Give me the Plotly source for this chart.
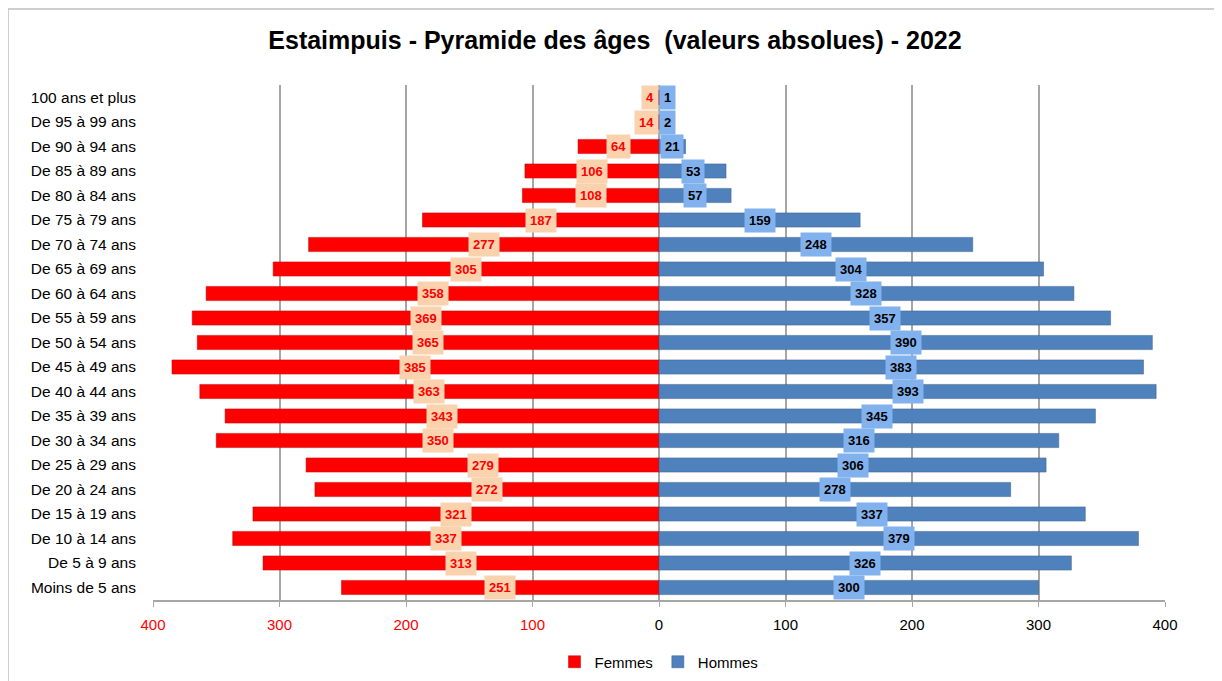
import plotly.graph_objects as go

ages = ["100 ans et plus", "De 95 à 99 ans", "De 90 à 94 ans", "De 85 à 89 ans", "De 80 à 84 ans",
        "De 75 à 79 ans", "De 70 à 74 ans", "De 65 à 69 ans", "De 60 à 64 ans", "De 55 à 59 ans",
        "De 50 à 54 ans", "De 45 à 49 ans", "De 40 à 44 ans", "De 35 à 39 ans", "De 30 à 34 ans",
        "De 25 à 29 ans", "De 20 à 24 ans", "De 15 à 19 ans", "De 10 à 14 ans", "De 5 à 9 ans",
        "Moins de 5 ans"]
femmes = [4, 14, 64, 106, 108, 187, 277, 305, 358, 369, 365, 385, 363, 343, 350, 279, 272, 321, 337, 313, 251]
hommes = [1, 2, 21, 53, 57, 159, 248, 304, 328, 357, 390, 383, 393, 345, 316, 306, 278, 337, 379, 326, 300]
tick_vals = [-400, -300, -200, -100, 0, 100, 200, 300, 400]
tick_text = ['<span style="color:#FF0000">400</span>', '<span style="color:#FF0000">300</span>',
             '<span style="color:#FF0000">200</span>', '<span style="color:#FF0000">100</span>',
             "0", "100", "200", "300", "400"]

FONT = "Liberation Sans"
RED = "#FF0000"
BLUE = "#4F81BD"

# page body has an 8px margin: the figure is drawn from (8, 8)
OFF = 8
W, H = 1222 - OFF, 681 - OFF
L, R, T, B = 153 - OFF, W - (1165 - OFF), 85 - OFF, H - (600 - OFF)
pw, ph = W - L - R, H - T - B
UNIT = pw / 800.0  # pixels per value unit


def px_x(p):
    return (p - L) / pw


def px_y(p):
    return (H - B - p) / ph


fig = go.Figure()
fig.add_trace(go.Bar(y=ages, x=[-v for v in femmes], orientation="h", name="Femmes",
                     marker=dict(color=RED, line=dict(color="#C00000", width=0.5)),
                     hoverinfo="skip"))
fig.add_trace(go.Bar(y=ages, x=hommes, orientation="h", name="Hommes",
                     marker=dict(color=BLUE, line=dict(color="#385D8A", width=0.5)),
                     hoverinfo="skip"))

annotations = []
for a, f, h in zip(ages, femmes, hommes):
    fw = 7.5 * len(str(f)) + 10
    hw = 7.5 * len(str(h)) + 10
    if f / 2 * UNIT < fw / 2:
        fa = dict(x=0, xanchor="right")
    else:
        fa = dict(x=-f / 2, xanchor="center")
    if h / 2 * UNIT < hw / 2:
        ha = dict(x=0, xanchor="left")
    else:
        ha = dict(x=h / 2, xanchor="center")
    annotations.append(dict(y=a, xref="x", yref="y", text=f"<b>{f}</b>", showarrow=False,
                            font=dict(family=FONT, size=13, color=RED), bgcolor="#FAD2AE",
                            borderpad=4, **fa))
    annotations.append(dict(y=a, xref="x", yref="y", text=f"<b>{h}</b>", showarrow=False,
                            font=dict(family=FONT, size=13, color="#000000"), bgcolor="#82B2EE",
                            borderpad=4, **ha))

fig.update_layout(
    width=W, height=H,
    margin=dict(l=L, r=R, t=T, b=B, autoexpand=False),
    barmode="overlay",
    bargap=0.42,
    plot_bgcolor="white",
    paper_bgcolor="white",
    font=dict(family=FONT, size=15, color="#000000"),
    title=dict(text="<b>Estaimpuis - Pyramide des âges  (valeurs absolues) - 2022</b>",
               x=0.5, xanchor="center", y=1 - (40 - OFF) / H, yanchor="middle",
               font=dict(family=FONT, size=25, color="#000000")),
    xaxis=dict(range=[-400, 400], tickvals=tick_vals, ticktext=tick_text, showgrid=True,
               gridcolor="#A6A6A6", gridwidth=1.5, zeroline=True, zerolinecolor="#A6A6A6",
               zerolinewidth=1.5, showline=True, linecolor="#A6A6A6", linewidth=1.5,
               ticks="outside", ticklen=5, tickcolor="#A6A6A6", tickfont=dict(size=15),
               ticklabelstandoff=5, fixedrange=True),
    yaxis=dict(autorange="reversed", showgrid=False, showline=False, ticks="",
               tickfont=dict(size=15.5), ticklabelstandoff=16, fixedrange=True),
    legend=dict(orientation="h", x=0.5, xanchor="center", y=px_y(662 - OFF), yanchor="middle",
                font=dict(size=15), itemwidth=30, traceorder="normal"),
    annotations=annotations,
    shapes=[dict(type="rect", xref="paper", yref="paper", x0=px_x(0), x1=px_x(1208),
                 y0=px_y(700), y1=px_y(1), line=dict(color="#BFBFBF", width=1.5), layer="below")],
)

fig.write_html("out.html")
